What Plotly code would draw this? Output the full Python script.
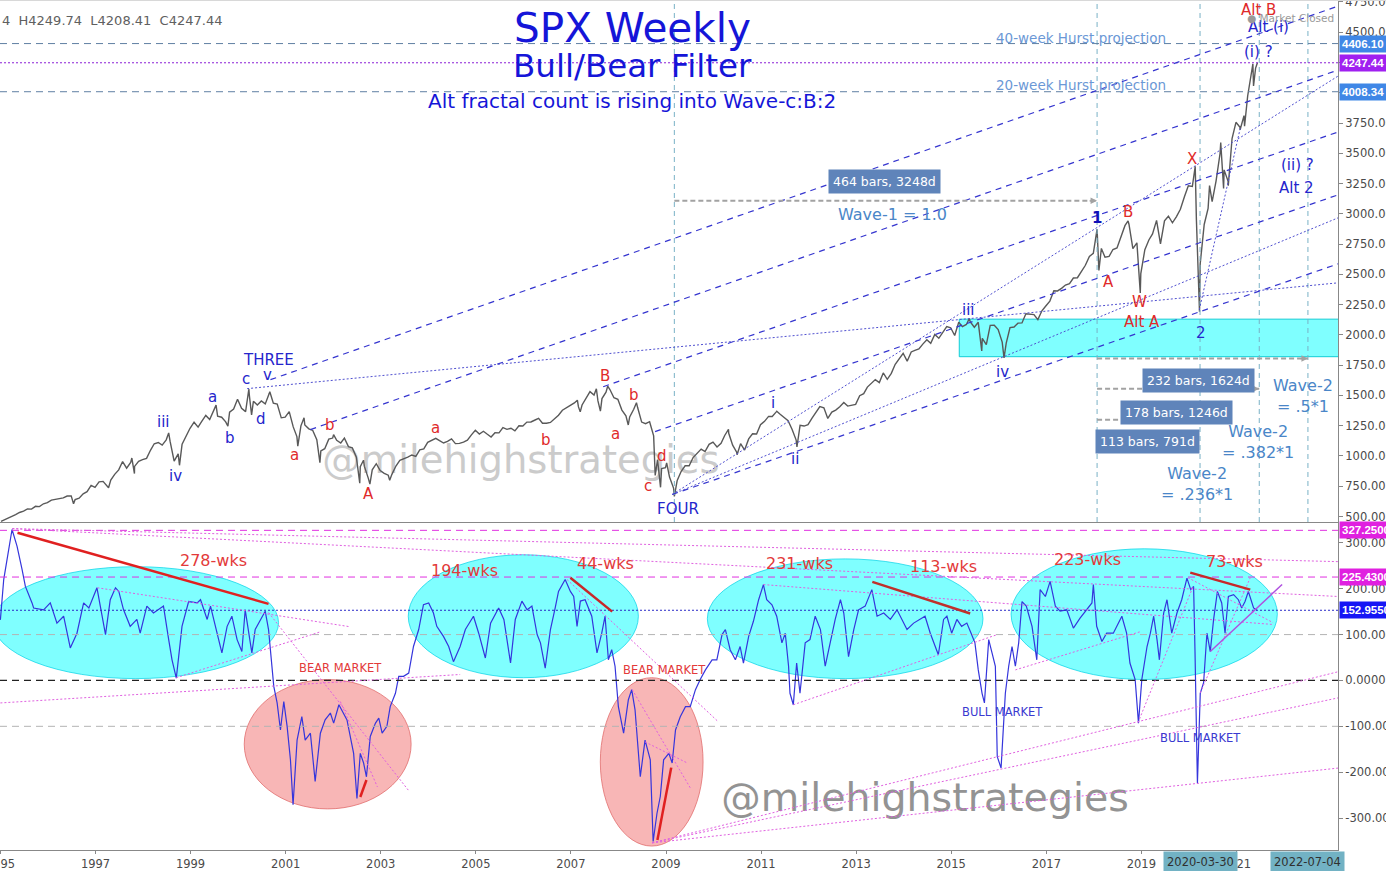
import numpy as np
import pandas as pd
import plotly.graph_objects as go

FONT = "DejaVu Sans"

# ---------------- SPX price: month-end closes 1995-01 .. 2021-05 ----------------
spx_month_start = "1995-01-01"
spx_month_close = [
    470, 487, 500, 515, 533, 544, 562, 561, 584, 582, 605, 615,
    636, 640, 645, 654, 669, 670, 639, 651, 687, 705, 757, 740,
    786, 790, 757, 801, 848, 885, 954, 899, 947, 914, 955, 970,
    980, 1049, 1101, 1111, 1090, 1133, 1120, 957, 1017, 1098, 1163, 1229,
    1279, 1238, 1286, 1335, 1301, 1372, 1328, 1320, 1282, 1362, 1388, 1469,
    1394, 1366, 1498, 1452, 1420, 1454, 1430, 1517, 1436, 1429, 1315, 1320,
    1366, 1240, 1160, 1249, 1256, 1224, 1211, 1134, 1041, 1060, 1139, 1148,
    1130, 1107, 1147, 1077, 1067, 990, 912, 916, 815, 886, 936, 880,
    856, 841, 848, 917, 964, 975, 990, 1008, 996, 1051, 1058, 1112,
    1131, 1145, 1126, 1107, 1121, 1141, 1102, 1104, 1115, 1130, 1174, 1212,
    1181, 1204, 1181, 1157, 1192, 1191, 1234, 1220, 1229, 1207, 1249, 1248,
    1280, 1281, 1295, 1311, 1270, 1270, 1277, 1304, 1336, 1378, 1401, 1418,
    1438, 1407, 1421, 1482, 1531, 1503, 1455, 1474, 1527, 1549, 1481, 1468,
    1379, 1331, 1323, 1386, 1400, 1280, 1267, 1283, 1166, 969, 896, 903,
    826, 735, 798, 873, 919, 919, 987, 1021, 1057, 1036, 1096, 1115,
    1074, 1104, 1169, 1187, 1089, 1031, 1102, 1049, 1141, 1183, 1181, 1258,
    1286, 1327, 1326, 1364, 1345, 1321, 1292, 1219, 1131, 1253, 1247, 1258,
    1312, 1366, 1408, 1398, 1310, 1362, 1379, 1407, 1441, 1412, 1416, 1426,
    1498, 1515, 1569, 1598, 1631, 1606, 1686, 1633, 1682, 1757, 1806, 1848,
    1783, 1859, 1872, 1884, 1924, 1960, 1931, 2003, 1972, 2018, 2068, 2059,
    1995, 2105, 2068, 2086, 2107, 2063, 2104, 1972, 1920, 2079, 2080, 2044,
    1940, 1932, 2060, 2065, 2097, 2099, 2174, 2171, 2168, 2126, 2199, 2239,
    2279, 2364, 2363, 2384, 2412, 2423, 2470, 2472, 2519, 2575, 2648, 2674,
    2824, 2714, 2641, 2648, 2705, 2718, 2816, 2902, 2914, 2712, 2760, 2507,
    2704, 2784, 2834, 2946, 2752, 2942, 2980, 2926, 2977, 3038, 3141, 3231,
    3226, 2954, 2585, 2912, 3044, 3100, 3271, 3500, 3363, 3270, 3622, 3756,
    3714, 3811, 3973, 4181, 4204,
]
# weekly swing highs / lows
spx_swing_dates = [
    "1995-01-06", "1996-07-16", "1997-04-11", "1997-10-07", "1997-10-27", "1998-07-17",
    "1998-10-08", "1999-07-16", "1999-10-15", "2000-03-24", "2000-04-14", "2000-09-01",
    "2001-04-04", "2001-05-22", "2001-09-21", "2002-01-04", "2002-07-24", "2002-08-22",
    "2002-10-10", "2003-03-11", "2007-02-20", "2007-03-14", "2007-07-16", "2007-08-16",
    "2007-10-11", "2008-03-17", "2008-05-19", "2008-10-10", "2008-11-20", "2009-01-06",
    "2009-03-06", "2010-04-26", "2010-07-01", "2011-05-02", "2011-10-04", "2015-05-20",
    "2015-08-24", "2016-02-11", "2018-01-26", "2018-02-09", "2018-09-21", "2018-12-24",
    "2020-02-19", "2020-03-23", "2020-06-08", "2020-09-02", "2020-09-24", "2020-10-30",
    "2021-01-29", "2021-03-04", "2021-05-07", "2021-05-12", "2021-06-11",
]
spx_swing_vals = [
    460, 605, 737, 983, 855, 1190, 923, 1420, 1247, 1553, 1339, 1530,
    1081, 1315, 945, 1176, 775, 965, 768, 800, 1461, 1364, 1555, 1370,
    1576, 1256, 1440, 839, 741, 943, 666, 1220, 1010, 1370, 1074, 2135,
    1867, 1810, 2873, 2533, 2941, 2346, 3393, 2192, 3233, 3588, 3209, 3233,
    3694, 3723, 4238, 4056, 4247.44,
]

# ---------------- Bull/Bear filter oscillator (decimal year, value) ----------------
osc_year = [
    1995.00, 1995.07, 1995.245, 1995.35, 1995.456, 1995.526, 1995.666, 1995.70, 1995.91, 1996.05,
    1996.19, 1996.33, 1996.47, 1996.61, 1996.75, 1996.86, 1997.03, 1997.21, 1997.31, 1997.42,
    1997.49, 1997.59, 1997.73, 1997.87, 1997.94, 1998.08, 1998.22, 1998.43, 1998.54, 1998.61,
    1998.70, 1998.82, 1998.96, 1999.14, 1999.21, 1999.35, 1999.42, 1999.56, 1999.66, 1999.77,
    1999.87, 1999.98, 2000.08, 2000.15, 2000.29, 2000.36, 2000.47, 2000.57, 2000.64, 2000.71,
    2000.75, 2000.82, 2000.89, 2000.96, 2001.03, 2001.10, 2001.155, 2001.24, 2001.34, 2001.41,
    2001.52, 2001.62, 2001.73, 2001.83, 2001.94, 2002.01, 2002.12, 2002.29, 2002.43, 2002.50,
    2002.57, 2002.64, 2002.70, 2002.78, 2002.89, 2002.96, 2003.03, 2003.13, 2003.20, 2003.31,
    2003.38, 2003.48, 2003.59, 2003.69, 2003.80, 2003.90, 2004.01, 2004.11, 2004.18, 2004.32,
    2004.43, 2004.53, 2004.67, 2004.78, 2004.95, 2005.06, 2005.20, 2005.31, 2005.38, 2005.48,
    2005.59, 2005.73, 2005.83, 2005.97, 2006.08, 2006.18, 2006.29, 2006.36, 2006.46, 2006.57,
    2006.67, 2006.74, 2006.88, 2006.99, 2007.06, 2007.13, 2007.20, 2007.30, 2007.44, 2007.55,
    2007.65, 2007.72, 2007.79, 2007.86, 2007.93, 2008.00, 2008.11, 2008.21, 2008.28, 2008.35,
    2008.46, 2008.56, 2008.67, 2008.73, 2008.81, 2008.88, 2008.95, 2009.06, 2009.13, 2009.20,
    2009.30, 2009.41, 2009.51, 2009.62, 2009.72, 2009.83, 2009.97, 2010.07, 2010.18, 2010.25,
    2010.35, 2010.46, 2010.56, 2010.63, 2010.74, 2010.84, 2010.95, 2011.05, 2011.12, 2011.23,
    2011.33, 2011.44, 2011.51, 2011.58, 2011.61, 2011.68, 2011.75, 2011.82, 2011.93, 2012.03,
    2012.14, 2012.25, 2012.35, 2012.46, 2012.56, 2012.67, 2012.74, 2012.84, 2012.95, 2013.05,
    2013.19, 2013.33, 2013.44, 2013.58, 2013.72, 2013.86, 2013.96, 2014.07, 2014.21, 2014.35,
    2014.45, 2014.56, 2014.73, 2014.84, 2014.91, 2015.01, 2015.12, 2015.22, 2015.33, 2015.43,
    2015.50, 2015.57, 2015.65, 2015.70, 2015.79, 2015.86, 2015.93, 2015.97, 2016.05, 2016.14,
    2016.21, 2016.28, 2016.35, 2016.42, 2016.49, 2016.58, 2016.70, 2016.80, 2016.87, 2016.98,
    2017.08, 2017.19, 2017.29, 2017.43, 2017.57, 2017.71, 2017.85, 2017.96, 2017.99, 2018.06,
    2018.17, 2018.27, 2018.41, 2018.59, 2018.69, 2018.76, 2018.87, 2018.94, 2019.01, 2019.12,
    2019.19, 2019.26, 2019.33, 2019.38, 2019.47, 2019.54, 2019.64, 2019.75, 2019.85, 2019.96,
    2020.04, 2020.10, 2020.13, 2020.18, 2020.24, 2020.31, 2020.38, 2020.45, 2020.52, 2020.60,
    2020.69, 2020.76, 2020.83, 2020.94, 2021.04, 2021.11, 2021.18, 2021.25, 2021.36, 2021.43,
]
osc_val = [
    132, 220, 329, 293, 242, 205, 169, 158, 154, 169,
    125, 140, 71, 103, 169, 158, 202, 100, 176, 202,
    194, 154, 118, 133, 103, 162, 147, 162, 89, 45,
    5, 118, 172, 169, 176, 133, 162, 103, 60, 118,
    140, 89, 63, 154, 60, 111, 133, 151, 111, 23,
    -13, -49, -108, -46, -100, -173, -271, -130, -79, -130,
    -115, -220, -115, -86, -71, -93, -53, -86, -159, -257,
    -159, -180, -210, -122, -93, -82, -115, -100, -57, -28,
    9, 9, 16, 74, 111, 165, 169, 147, 118, 96,
    74, 41, 74, 111, 140, 103, 49, 125, 140, 158,
    133, 38, 133, 173, 154, 162, 100, 82, 27, 111,
    158, 194, 220, 194, 183, 118, 173, 176, 140, 60,
    103, 140, 45, 67, 31, -57, -115, -42, -20, -64,
    -210, -130, -173, -351, -290, -253, -173, -159, -180, -108,
    -79, -57, -57, -20, 2, 23, 45, 45, 100, 111,
    67, 45, 74, 38, 96, 129, 176, 209, 176, 165,
    140, 82, 103, 31, -28, -53, 38, -28, 82, 89,
    140, 111, 31, 85, 133, 176, 147, 52, 111, 154,
    162, 198, 140, 147, 133, 154, 133, 111, 125, 133,
    140, 103, 56, 133, 140, 103, 133, 118, 125, 100,
    82, 23, -28, -49, 89, 60, 31, -166, -191, -28,
    31, 74, 31, 82, 172, 162, 118, 45, 198, 183,
    216, 162, 151, 154, 114, 136, 154, 169, 209, 118,
    85, 103, 103, 140, 103, 38, 2, -93, 2, 74,
    103, 140, 89, 45, 147, 176, 103, 147, 176, 223,
    198, 205, 60, -224, -28, -5, 103, 63, 133, 194,
    169, 103, 183, 187, 176, 158, 172, 194, 158, 153,
]

price_ticks = [500, 750, 1000, 1250, 1500, 1750, 2000, 2250, 2500, 2750, 3000, 3250,
               3500, 3750, 4000, 4250, 4500, 4750]
osc_ticks = [-300, -200, -100, 0, 100, 200, 300]
year_ticks = list(range(1995, 2022, 2))


def dy(v):
    """decimal year -> timestamp string"""
    y = int(np.floor(v))
    a = pd.Timestamp(year=y, month=1, day=1)
    b = pd.Timestamp(year=y + 1, month=1, day=1)
    return (a + (b - a) * (v - y)).strftime("%Y-%m-%d %H:%M")


# ---- build price series ----
mdates = pd.date_range(spx_month_start, periods=len(spx_month_close), freq="MS") + pd.Timedelta(days=27)
df = pd.concat([
    pd.DataFrame({"d": mdates, "v": spx_month_close}),
    pd.DataFrame({"d": pd.to_datetime(spx_swing_dates), "v": spx_swing_vals}),
]).sort_values("d").drop_duplicates("d")

osc_dates = [dy(v) for v in osc_year]

X0, X1 = "1994-12-29", "2023-02-20"
TOP_R = [454.6, 4766]
BOT_R = [-369.6, 345.4]
SPLIT = 328 / 850

fig = go.Figure()

# watermarks (beneath everything)
fig.add_trace(go.Scatter(x=[dy(2005.95)], y=[935], mode="text", text=["@milehighstrategies"],
                         textfont=dict(family=FONT, size=38.5, color="#cbcbcb"),
                         xaxis="x2", yaxis="y2", hoverinfo="skip", showlegend=False))
fig.add_trace(go.Scatter(x=[dy(2014.45)], y=[-262], mode="text", text=["@milehighstrategies"],
                         textfont=dict(family=FONT, size=39.5, color="#939393"),
                         xaxis="x", yaxis="y", hoverinfo="skip", showlegend=False))

fig.add_trace(go.Scatter(x=df["d"], y=df["v"], mode="lines",
                         line=dict(color="#595959", width=1.4),
                         xaxis="x2", yaxis="y2", showlegend=False, hoverinfo="skip"))
fig.add_trace(go.Scatter(x=osc_dates, y=osc_val, mode="lines",
                         line=dict(color="#3535dc", width=1.2),
                         xaxis="x", yaxis="y", showlegend=False, hoverinfo="skip"))

shapes = []
ann = []


def tline(x0, y0, x1, y1, color, width=1.2, dash=None, top=True):
    shapes.append(dict(type="line", xref="x2" if top else "x", yref="y2" if top else "y",
                       x0=dy(x0), y0=y0, x1=dy(x1), y1=y1,
                       line=dict(color=color, width=width, dash=dash)))


def txt(s, x, y, color, size, top=True, bold=False, xanchor="center"):
    ann.append(dict(text=f"<b>{s}</b>" if bold else s, x=dy(x), y=y,
                    xref="x2" if top else "x", yref="y2" if top else "y",
                    showarrow=False, xanchor=xanchor, yanchor="middle",
                    font=dict(family=FONT, size=size, color=color)))


# ---------- TOP PANEL ----------
shapes.append(dict(type="rect", xref="x2", yref="y2", x0=dy(2015.17), x1=dy(2023.2), y0=1820, y1=2130,
                   fillcolor="rgba(0,255,255,0.5)", line=dict(color="rgba(0,200,210,0.9)", width=1),
                   layer="below"))
for d in ["2009-03-06", "2018-01-26", "2020-03-27", "2021-06-25", "2022-07-04"]:
    shapes.append(dict(type="line", xref="x2", yref="y2", x0=d, x1=d, y0=TOP_R[0], y1=TOP_R[1],
                       line=dict(color="#79b1c6", width=1, dash="5px,4px")))
for v, c, dsh in [(4406.10, "#5f7fa3", "7px,5px"), (4008.34, "#5f7fa3", "7px,5px"),
                  (4247.44, "#8a1fd6", "2px,2px")]:
    shapes.append(dict(type="line", xref="paper", yref="y2", x0=0, x1=1, y0=v, y1=v,
                       line=dict(color=c, width=1, dash=dsh)))

CH = "#3535cf"
DASH = "6px,5px"
DOT = "2px,2px"
tline(2000.68, 1630, 2023.14, 4716, CH, 1.2, DASH)
tline(2001.52, 1218, 2023.14, 4188, CH, 1.2, DASH)
tline(2007.68, 1572, 2023.14, 3676, CH, 1.2, DASH)
tline(2008.77, 1201, 2023.14, 3157, CH, 1.2, DASH)
tline(2009.13, 682, 2023.14, 2587, CH, 1.2, DASH)
tline(2000.19, 1556, 2023.14, 2430, "#5050d0", 1, DOT)
tline(2009.13, 682, 2023.14, 4138, "#5050d0", 1, DOT)
tline(2009.13, 682, 2023.14, 2967, "#5050d0", 1, DOT)
tline(2020.22, 2208, 2021.08, 3709, "#5050d0", 1, DOT)

GR = "#a2a2a2"
for d0, d1, v in [("2009-03-06", "2018-01-26", 3107), ("2018-01-26", "2022-07-04", 1804),
                  ("2018-01-26", "2021-06-25", 1556), ("2018-01-26", "2020-03-27", 1300)]:
    shapes.append(dict(type="line", xref="x2", yref="y2", x0=d0, x1=d1, y0=v, y1=v,
                       line=dict(color=GR, width=2, dash="5px,3px")))
    ann.append(dict(x=d1, y=v, xref="x2", yref="y2", ax=-9, ay=0, text="", showarrow=True,
                    arrowhead=2, arrowsize=1, arrowwidth=1.3, arrowcolor=GR))

BOX = "#5f84ba"
for s, x, y in [("464 bars, 3248d", 2013.59, 3268), ("232 bars, 1624d", 2020.20, 1624),
                ("178 bars, 1246d", 2019.75, 1358), ("113 bars, 791d", 2019.13, 1119)]:
    ann.append(dict(text=s, x=dy(x), y=y, xref="x2", yref="y2", showarrow=False,
                    bgcolor=BOX, borderpad=4, font=dict(family=FONT, size=12.5, color="white")))

WV = "#4a86c8"
txt("Wave-1 = 1.0", 2013.76, 2992, WV, 16)
txt("Wave-2<br>= .5*1", 2022.40, 1498, WV, 16)
txt("Wave-2<br>= .382*1", 2021.46, 1119, WV, 16)
txt("Wave-2<br>= .236*1", 2020.17, 772, WV, 16)
txt("40-week Hurst projection", 2017.73, 4452, "#6b98d6", 13.5)
txt("20-week Hurst projection", 2017.73, 4064, "#6b98d6", 13.5)

BL = "#2525cc"
for s, x, y in [("iii", 1998.43, 1284), ("iv", 1998.68, 838), ("a", 1999.46, 1490), ("b", 1999.84, 1152),
                ("c", 2000.17, 1638), ("v", 2000.62, 1672), ("THREE", 2000.64, 1795), ("d", 2000.49, 1309),
                ("i", 2011.26, 1441), ("ii", 2011.72, 979), ("iii", 2015.36, 2208), ("iv", 2016.09, 1696),
                ("FOUR", 2009.26, 558), ("2", 2020.26, 2018), ("(i) ?", 2021.46, 4336),
                ("Alt (i)", 2021.67, 4542), ("(ii) ?", 2022.28, 3404), ("Alt 2", 2022.26, 3214)]:
    txt(s, x, y, BL, 15)
txt("1", 2018.07, 2967, "#1010b8", 15, bold=True)
RD = "#e02a2a"
for s, x, y in [("a", 2001.18, 1011), ("b", 2001.94, 1259), ("A", 2002.74, 690), ("a", 2004.15, 1234),
                ("b", 2006.48, 1135), ("B", 2007.72, 1663), ("b", 2008.33, 1507), ("a", 2007.93, 1185),
                ("c", 2008.63, 748), ("d", 2008.92, 1003), ("A", 2018.30, 2439), ("B", 2018.72, 3016),
                ("W", 2018.97, 2274), ("Alt A", 2019.02, 2109), ("X", 2020.07, 3454), ("Alt B", 2021.46, 4683)]:
    txt(s, x, y, RD, 15)

TB = "#1515d8"
for s, yy, sz in [("SPX Weekly", 28, 40.5), ("Bull/Bear Filter", 66, 32.5),
                  ("Alt fractal count is rising into Wave-c:B:2", 101, 20)]:
    ann.append(dict(text=s, x=632 / 1338, y=1 - yy / 850, xref="paper", yref="paper", showarrow=False,
                    xanchor="center", yanchor="middle", font=dict(family=FONT, size=sz, color=TB)))
ann.append(dict(text="4  H4249.74  L4208.41  C4247.44", x=0, y=1 - 20 / 850, xref="paper", yref="paper",
                showarrow=False, xanchor="left", yanchor="middle",
                font=dict(family=FONT, size=13, color="#606060")))
ann.append(dict(text="● Market Closed", x=1290 / 1338, y=1 - 18 / 850, xref="paper", yref="paper",
                showarrow=False, xanchor="center", yanchor="middle",
                font=dict(family=FONT, size=10.5, color="#9a9a9a")))

for v, c, yr in [(4406.10, "#3f87e6", "y2"), (4247.44, "#a020f0", "y2"), (4008.34, "#3f87e6", "y2"),
                 (327.25, "#e020e0", "y"), (225.43, "#e020e0", "y"), (152.955, "#1616f5", "y")]:
    label = f"{v:.2f}" if yr == "y2" else f"{v:.4f}"
    ann.append(dict(text=f"<b>{label}</b>", x=1, y=v, xref="paper", yref=yr, showarrow=False,
                    xanchor="left", yanchor="middle", xshift=1, bgcolor=c, borderpad=2,
                    font=dict(family="Liberation Sans", size=11.5, color="white")))

# ---------- BOTTOM PANEL ----------
for (x0, x1, y0, y1) in [(1994.85, 2000.85, 4, 248), (2003.58, 2008.42, 6, 274),
                         (2009.87, 2015.67, 4, 265), (2016.26, 2021.86, 2, 287)]:
    shapes.append(dict(type="circle", xref="x", yref="y", x0=dy(x0), x1=dy(x1), y0=y0, y1=y1,
                       fillcolor="rgba(0,255,255,0.5)", line=dict(color="rgba(0,210,230,0.7)", width=1),
                       layer="below"))
for (x0, x1, y0, y1) in [(2000.13, 2003.64, -280, 2), (2007.62, 2009.78, -361, 6)]:
    shapes.append(dict(type="circle", xref="x", yref="y", x0=dy(x0), x1=dy(x1), y0=y0, y1=y1,
                       fillcolor="rgba(238,80,80,0.42)", line=dict(color="rgba(225,110,110,0.8)", width=1),
                       layer="below"))
for v, c, dsh in [(327.25, "#e030e0", "7px,5px"), (225.43, "#e030e0", "7px,5px"),
                  (152.955, "#2a2ac8", "2px,2px"), (100, "#b4b4b4", "7px,5px"),
                  (-100, "#b4b4b4", "7px,5px"), (0, "#222222", "7px,5px")]:
    shapes.append(dict(type="line", xref="paper", yref="y", x0=0, x1=1, y0=v, y1=v,
                       line=dict(color=c, width=1.2 if v == 0 else 1, dash=dsh)))

MG = "#e060e0"
for (a, b, c, d) in [(1995.25, 331, 2023.14, 183), (1995.25, 331, 2023.14, 259),
                     (2008.71, -354, 2023.14, 19), (2008.71, -354, 2023.14, -38),
                     (2008.71, -354, 2023.14, -191), (1995.0, -49, 2004.67, 13),
                     (1998.70, 6, 2001.73, 106), (1997.04, 202, 2002.36, 117),
                     (2000.64, 148, 2003.58, -239), (2002.15, -46, 2002.93, -232),
                     (2006.92, 220, 2010.10, -90), (2008.29, -20, 2009.51, -234),
                     (2008.56, -134, 2009.45, -180), (2011.68, -53, 2015.97, 100),
                     (2016.35, 23, 2018.97, 106), (2018.93, -92, 2020.09, 205),
                     (2020.24, -27, 2021.29, 224), (2019.98, 224, 2021.77, 126),
                     (2011.05, 209, 2021.77, 122)]:
    tline(a, b, c, d, MG, 1, DOT, top=False)

tline(1995.36, 322, 2000.64, 167, "#e02020", 2.5, None, top=False)
tline(2006.99, 224, 2007.87, 150, "#c8282a", 2.5, None, top=False)
tline(2013.34, 215, 2015.40, 146, "#c0302c", 2.5, None, top=False)
tline(2020.03, 235, 2021.29, 198, "#c8282a", 2.5, None, top=False)
tline(2002.57, -254, 2002.70, -217, "#e02020", 2.5, None, top=False)
tline(2008.82, -348, 2009.11, -190, "#e02020", 2.5, None, top=False)
tline(2020.45, 63, 2021.96, 209, "#b050e0", 1.5, None, top=False)

for s, x, y in [("278-wks", 1999.48, 261), ("194-wks", 2004.76, 240), ("44-wks", 2007.72, 255),
                ("231-wks", 2011.82, 255), ("113-wks", 2014.83, 248), ("223-wks", 2017.86, 263),
                ("73-wks", 2020.95, 259)]:
    txt(s, x, y, "#e33a3a", 16, top=False)
txt("BEAR MARKET", 2002.15, 28, "#e33a3a", 11.5, top=False)
txt("BEAR MARKET", 2008.96, 23, "#e33a3a", 11.5, top=False)
txt("BULL MARKET", 2016.09, -68, "#3a3ad0", 11.5, top=False)
txt("BULL MARKET", 2020.24, -125, "#3a3ad0", 11.5, top=False)

for d in ["2020-03-30", "2022-07-04"]:
    ann.append(dict(text=d, x=d, y=0, xref="x", yref="paper", yanchor="top", yshift=-1,
                    showarrow=False, bgcolor="#72b2c4", borderpad=3,
                    font=dict(family=FONT, size=11.5, color="#303030")))

shapes.append(dict(type="line", xref="paper", yref="paper", x0=0, x1=1.05, y0=1, y1=1,
                   line=dict(color="#d8d8d8", width=2)))

axfont = dict(family=FONT, size=11.5, color="#4a4a4a")
fig.update_layout(
    width=1386, height=871, margin=dict(l=0, r=48, t=0, b=21),
    paper_bgcolor="white", plot_bgcolor="white", template="none", showlegend=False,
    xaxis=dict(type="date", range=[X0, X1], domain=[0, 1], anchor="y",
               tickvals=[f"{y}-01-01" for y in year_ticks], ticktext=[str(y) for y in year_ticks],
               tickfont=axfont, showgrid=False, zeroline=False, showline=True, linecolor="#888",
               linewidth=1, ticks="outside", ticklen=3, tickcolor="#888", automargin=False,
               ticklabeloverflow="allow"),
    xaxis2=dict(type="date", range=[X0, X1], domain=[0, 1], anchor="y2", matches="x",
                showticklabels=False, showgrid=False, zeroline=False, showline=True,
                linecolor="#888", linewidth=1, ticks="", automargin=False),
    yaxis=dict(domain=[0, SPLIT], range=BOT_R, side="right", anchor="x",
               tickvals=osc_ticks, ticktext=[f"{v:.4f}" for v in osc_ticks], tickfont=axfont,
               showgrid=False, zeroline=False, showline=True, linecolor="#888", ticks="outside",
               ticklen=4, tickcolor="#888", automargin=False, ticklabeloverflow="allow"),
    yaxis2=dict(domain=[SPLIT, 1], range=TOP_R, side="right", anchor="x2",
                tickvals=price_ticks, ticktext=[f"{v:.2f}" for v in price_ticks], tickfont=axfont,
                showgrid=False, zeroline=False, showline=True, linecolor="#888", ticks="outside",
                ticklen=4, tickcolor="#888", automargin=False, ticklabeloverflow="allow"),
    shapes=shapes, annotations=ann,
)

fig.write_html("out.html")
